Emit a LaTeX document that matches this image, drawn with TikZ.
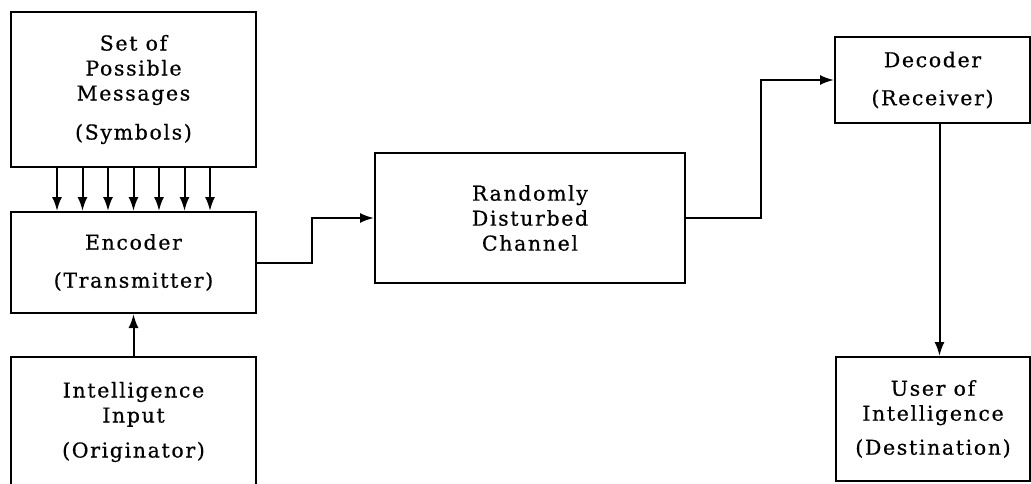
\documentclass[tikz,border=0pt]{standalone}
\usepackage{fontspec}
\setmainfont[LetterSpace=8,FakeBold=0.6]{DejaVu Serif}
\usetikzlibrary{arrows.meta,calc}

\tikzset{
  block/.style={draw, line width=2pt, align=center, inner sep=0pt,
    font=\fontsize{20.5}{25}\selectfont},
  wire/.style={line width=2pt},
  arr/.style={wire, -{Latex[length=14pt,width=10pt]}}
}

\begin{document}
\begin{tikzpicture}[x=1pt,y=-1pt]
	\useasboundingbox (0,0) rectangle (1031,483);
	% boxes
	\node[block, minimum width=245pt, minimum height=155pt] (symbols) at (133.5,89.5)
		{Set of\\Possible\\Messages\\[14pt](Symbols)};
	\node[block, minimum width=245pt, minimum height=101pt] (encoder) at (133.5,262.5)
		{Encoder\\[13pt](Transmitter)};
	\node[block, minimum width=245pt, minimum height=130pt] (originator) at (133.5,422)
		{Intelligence\\Input\\[10pt](Originator)};
	\node[block, minimum width=310pt, minimum height=130pt] (channel) at (530,218)
		{Randomly\\Disturbed\\Channel};
	\node[block, minimum width=195pt, minimum height=86pt] (decoder) at (932.5,80)
		{Decoder\\[13pt](Receiver)};
	\node[block, minimum width=194pt, minimum height=124pt] (user) at (933,419)
		{User of\\Intelligence\\[9pt](Destination)};
	% corner points of the channel links
	\coordinate (k1) at (312,0);
	\coordinate (k2) at (761,0);
	% connectors
	\foreach \i in {-3,...,3}
		\draw[arr] ([xshift=\i*25.5pt]symbols.south) -- ([xshift=\i*25.5pt]encoder.north);
	\draw[arr] (originator.north) -- (encoder.south);
	\draw[arr] (encoder.east) -- (encoder.east -| k1) -- (k1 |- channel.west) -- (channel.west);
	\draw[arr] (channel.east) -- (channel.east -| k2) -- (k2 |- decoder.west) -- (decoder.west);
	\draw[arr] ([xshift=7pt]decoder.south) -- ([xshift=7pt]decoder.south |- user.north);
\end{tikzpicture}
\end{document}
